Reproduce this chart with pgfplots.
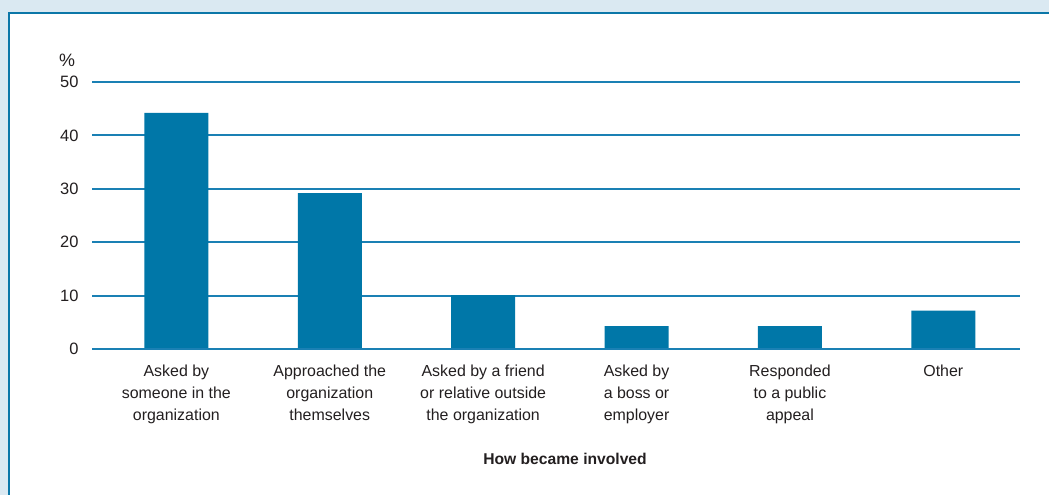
\documentclass[border=0pt]{standalone}
\usepackage{pgfplots}
\pgfplotsset{compat=1.18}
\usepackage{fontspec}
\setmainfont{Liberation Sans}
\definecolor{bg}{HTML}{DAE9F2}
\definecolor{frame}{HTML}{0B77A8}
\definecolor{barc}{HTML}{0077A8}
\definecolor{gridc}{HTML}{1A80B4}
\definecolor{txt}{HTML}{231F20}
\begin{document}
\begin{tikzpicture}[x=1bp,y=1bp]
\useasboundingbox (0,0) rectangle (1049,495);
\fill[bg] (0,0) rectangle (1049,495);
\fill[white] (9,0) rectangle (1049,482);
\draw[frame, line width=2.6bp] (9,-2) -- (9,482) -- (1051,482);
\begin{axis}[
  at={(92bp,146bp)}, anchor=south west,
  scale only axis, width=928bp, height=267bp,
  xmin=-0.55, xmax=5.5, ymin=0, ymax=50,
  ybar, bar width=64bp, bar shift=0pt,
  axis lines=left, axis line style={draw=none},
  ytick={0,10,20,30,40,50},
  xtick={0,1,2,3,4,5},
  xticklabels={{Asked by\\someone in the\\organization},
               {Approached the\\organization\\themselves},
               {Asked by a friend\\or relative outside\\the organization},
               {Asked by\\a boss or\\employer},
               {Responded\\to a public\\appeal},
               {Other}},
  major tick length=0pt, tick style={draw=none},
  ymajorgrids, grid style={gridc, line width=1.9bp},
  /pgf/number format/assume math mode=true,
  yticklabel style={font=\fontsize{16.5}{16.5}\selectfont, text=txt, xshift=-10bp},
  xticklabel style={font=\fontsize{16}{22.5}\selectfont, text=txt, align=center, anchor=north, yshift=-12bp},
  xlabel={\textbf{How became involved}},
  xlabel style={font=\fontsize{15.7}{15.7}\selectfont, text=txt, xshift=9bp, yshift=-22bp},
  clip=false,
]
\addplot[fill=barc, draw=none] coordinates {(0,44.2) (1,29.2) (2,10.1) (3,4.3) (4,4.3) (5,7.2)};
\draw[gridc, line width=2.6bp] (axis cs:-0.55,0) -- (axis cs:5.5,0);
\end{axis}
\node[font=\fontsize{18}{18}\selectfont, text=txt] at (67,435) {\%};
\end{tikzpicture}
\end{document}
